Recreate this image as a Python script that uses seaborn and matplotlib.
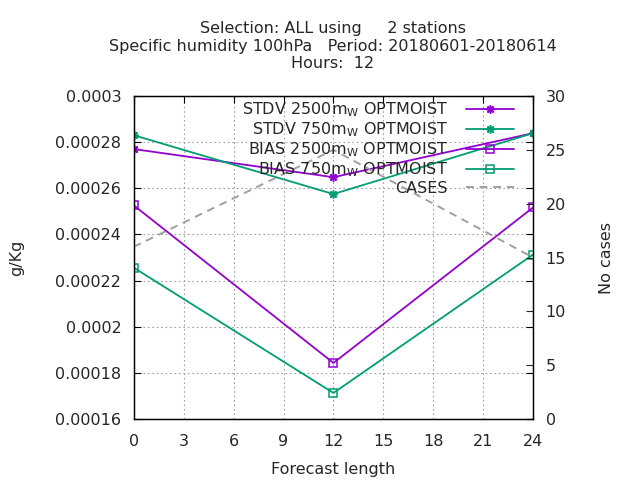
import numpy as np
import pandas as pd
import matplotlib
matplotlib.use('Agg')
import matplotlib.pyplot as plt
import seaborn as sns
from matplotlib.ticker import FuncFormatter

# -- Data -------------------------------------------------------
lead = [0, 12, 24]
stdv_2500 = [0.000277, 0.0002648, 0.0002839]
stdv_750 = [0.000283, 0.0002575, 0.0002839]
bias_2500 = [0.0002526, 0.0001843, 0.0002517]
bias_750 = [0.0002256, 0.0001713, 0.0002313]
cases = [16, 25, 15]

x_ticks = [0, 3, 6, 9, 12, 15, 18, 21, 24]
y_ticks = [0.00016, 0.00018, 0.0002, 0.00022, 0.00024, 0.00026, 0.00028, 0.0003]
y2_ticks = [0, 5, 10, 15, 20, 25, 30]

PURPLE = '#9400d3'
GREEN = '#009e73'
GREY = '#a0a0a0'

sns.set_style('white')
plt.rcParams['font.family'] = ['DejaVu Sans']
FS = 11.5

fig = plt.figure(figsize=(6.4, 4.8), dpi=100)
ax = fig.add_axes([0.209, 0.127, 0.624, 0.673])
ax2 = ax.twinx()

asterisk = (8, 2, 0)
series = [
    (r'STDV 2500m$_{\mathrm{W}}$ OPTMOIST', stdv_2500, PURPLE, asterisk, PURPLE),
    (r'STDV 750m$_{\mathrm{W}}$ OPTMOIST', stdv_750, GREEN, asterisk, GREEN),
    (r'BIAS 2500m$_{\mathrm{W}}$ OPTMOIST', bias_2500, PURPLE, 's', 'none'),
    (r'BIAS 750m$_{\mathrm{W}}$ OPTMOIST', bias_750, GREEN, 's', 'none'),
]
for label, vals, col, mk, fc in series:
    sns.lineplot(x=lead, y=vals, ax=ax, color=col, marker=mk, markersize=6,
                 markerfacecolor=fc, markeredgecolor=col, markeredgewidth=1.1,
                 linewidth=1.3, label=label, legend=False)

sns.lineplot(x=lead, y=cases, ax=ax2, color=GREY, linewidth=1.4,
             linestyle=(0, (4, 3)), label='CASES', legend=False)

ax.set_xlim(0, 24)
ax.set_ylim(0.00016, 0.0003)
ax2.set_ylim(0, 30)
ax.set_xticks(x_ticks)
ax.set_yticks(y_ticks)
ax2.set_yticks(y2_ticks)
ax.yaxis.set_major_formatter(FuncFormatter(lambda v, p: f'{v:.5f}'.rstrip('0').rstrip('.')))

ax.grid(True, color=GREY, linestyle=(0, (1.5, 2.5)), linewidth=0.8)
ax.set_axisbelow(True)
ax.tick_params(direction='in', top=True, right=True, length=5, labelsize=FS,
               color='black', width=0.8, pad=9)
ax.tick_params(axis='x', pad=11)
ax2.tick_params(direction='in', length=5, labelsize=FS, width=0.8, pad=9)
for a in (ax, ax2):
    for sp in a.spines.values():
        sp.set_edgecolor('black')
        sp.set_linewidth(0.9)

ax.set_xlabel('Forecast length', fontsize=FS, labelpad=9)
ax.set_ylabel('g/Kg', fontsize=FS, labelpad=22)
ax2.set_ylabel('No cases', fontsize=FS, labelpad=24)

fig.text(0.52, 0.904, 'Selection: ALL using     2 stations\n'
         'Specific humidity 100hPa   Period: 20180601-20180614\n'
         'Hours:  12', ha='center', va='center', fontsize=FS, linespacing=1.2)

h1, l1 = ax.get_legend_handles_labels()
h2, l2 = ax2.get_legend_handles_labels()
ax2.legend(h1 + h2, l1 + l2, loc='upper right', bbox_to_anchor=(0.975, 1.015),
           frameon=False, markerfirst=False, fontsize=FS, handlelength=3.0,
           labelspacing=0.08, handletextpad=1.1, borderaxespad=0.2)

plt.savefig('out.png', dpi=100)
plt.close()
